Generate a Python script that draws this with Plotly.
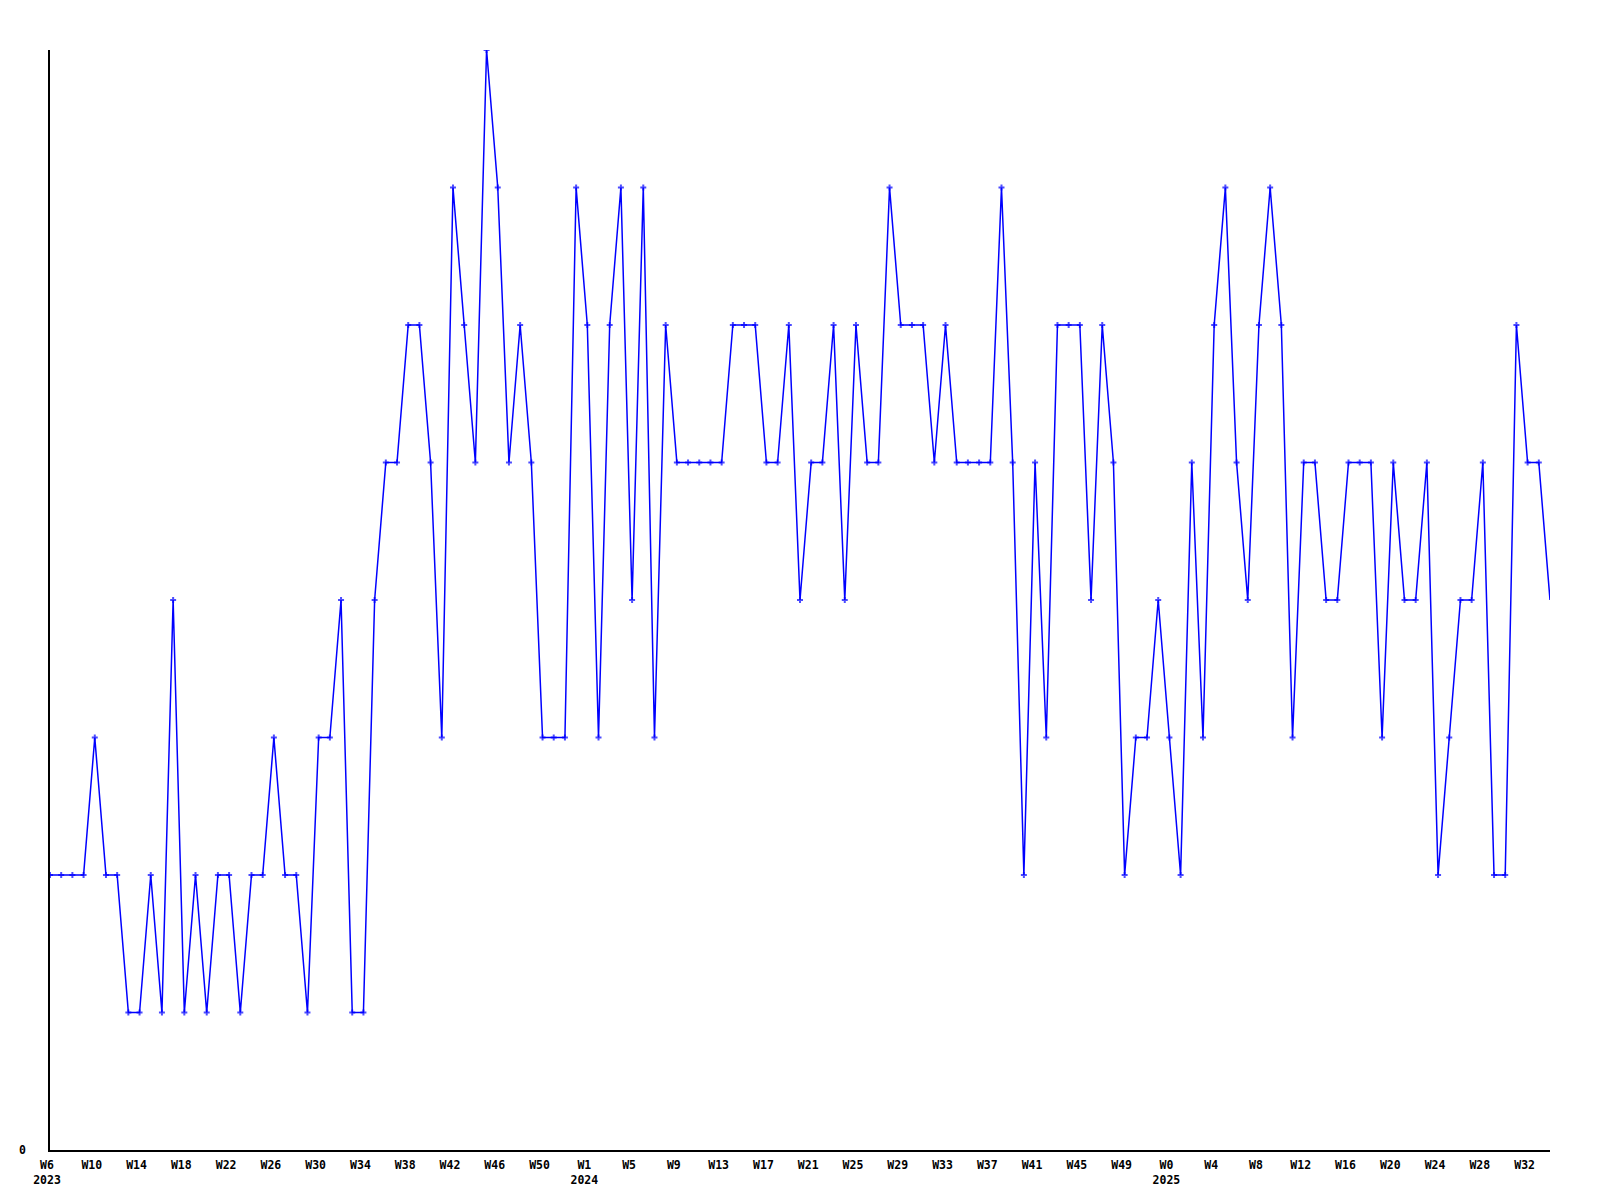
import plotly.graph_objects as go

# Weekly values (2023 W6 .. 2025 ~W34)
values = [
    2, 2, 2, 2, 3, 2, 2, 1, 1, 2, 1, 4, 1, 2, 1, 2, 2, 1, 2, 2, 3, 2, 2, 1, 3, 3, 4, 1, 1, 4, 5, 5, 6, 6, 5, 3,
    7, 6, 5, 8, 7, 5, 6, 5, 3, 3, 3, 7, 6, 3, 6, 7, 4, 7, 3, 6, 5, 5, 5, 5, 5, 6, 6, 6, 5, 5, 6, 4, 5, 5, 6,
    4, 6, 5, 5, 7, 6, 6, 6, 5, 6, 5, 5, 5, 5, 7, 5, 2, 5, 3, 6, 6, 6, 4, 6, 5, 2, 3, 3, 4, 3, 2, 5, 3,
    6, 7, 5, 4, 6, 7, 6, 3, 5, 5, 4, 4, 5, 5, 5, 3, 5, 4, 4, 5, 2, 3, 4, 4, 5, 2, 2, 6, 5, 5, 4,
]

# Tick labels every 4 weeks
tick_labels = [
    "W6<br>2023", "W10", "W14", "W18", "W22", "W26", "W30", "W34", "W38", "W42", "W46", "W50",
    "W1<br>2024", "W5", "W9", "W13", "W17", "W21", "W25", "W29", "W33", "W37", "W41", "W45", "W49",
    "W0<br>2025", "W4", "W8", "W12", "W16", "W20", "W24", "W28", "W32",
]

x = list(range(len(values)))
tick_positions = [i * 4 for i in range(len(tick_labels))]
marker_sizes = [5] * (len(values) - 1) + [0]

fig = go.Figure()
fig.add_trace(go.Scatter(
    x=x, y=values, mode="lines+markers",
    line=dict(color="#0000FF", width=1.5),
    marker=dict(symbol="cross", size=marker_sizes, color="#0000FF", line=dict(width=0)),
    showlegend=False, hoverinfo="y",
))

font = dict(family="DejaVu Sans Mono", size=11.5, color="black", weight="bold")

fig.update_layout(
    width=1592, height=1192,
    margin=dict(l=42, r=50, t=42, b=50, autoexpand=False),
    paper_bgcolor="white", plot_bgcolor="white",
    xaxis=dict(
        range=[0, len(values) - 1],
        tickvals=tick_positions, ticktext=tick_labels,
        tickfont=font, ticks="", ticklabelstandoff=3, ticklabelshift=-3,
        showgrid=False, zeroline=False, automargin=False,
        showline=True, linecolor="black", linewidth=1.5,
    ),
    yaxis=dict(
        range=[0, 8],
        tickvals=[0], ticktext=["0"],
        tickfont=font, ticks="", ticklabelstandoff=20,
        showgrid=False, zeroline=False, automargin=False,
        showline=True, linecolor="black", linewidth=1.5,
    ),
)

fig.write_html("out.html")
